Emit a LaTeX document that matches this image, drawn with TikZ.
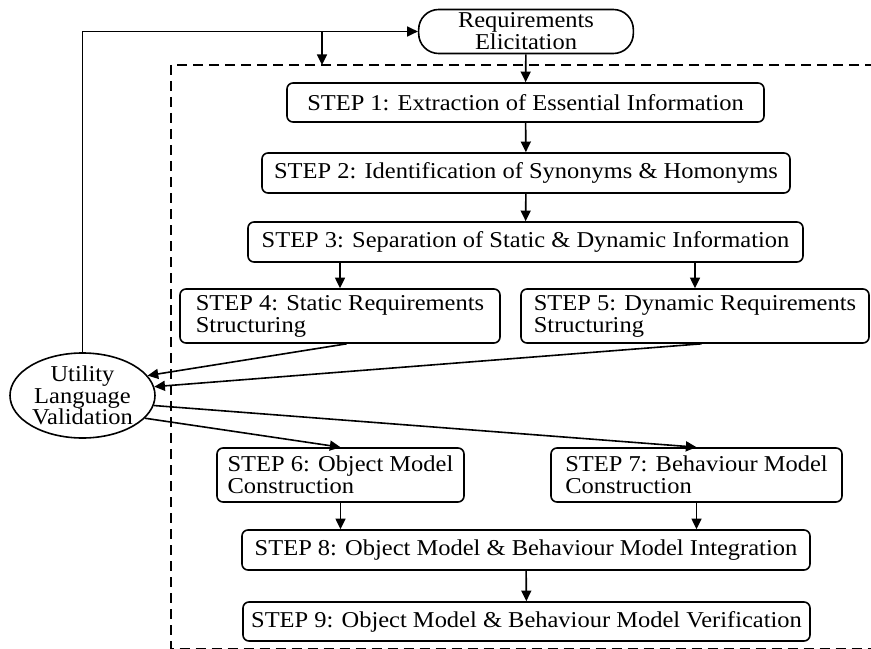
\documentclass[tikz,border=0pt]{standalone}
\usepackage{fontspec}
\setmainfont{Liberation Serif}[FakeStretch=1.08]
\usetikzlibrary{arrows.meta,shapes.geometric}

\begin{document}
\begin{tikzpicture}[x=0.75pt,y=-0.75pt,
box/.style={draw,rounded corners=4.5pt,line width=1.2pt,align=left,inner sep=0pt,font=\fontsize{17}{16.5}\selectfont},
arr/.style={-{Triangle[length=8pt,width=7.5pt]},line width=1.2pt}]
\useasboundingbox (0,0) rectangle (871,649);
% dashed frame around the steps
\draw[line width=1.2pt,dash pattern=on 7.5pt off 4.5pt] (875,65) -- (171,65) -- (171,648.5) -- (875,648.5);
\node[box,rounded corners=15pt,align=center,minimum width=161pt,minimum height=33pt] (req) at (526,31.5) {Requirements\\Elicitation};
\node[box,minimum width=357.75pt,minimum height=29.25pt] (s1) at (525.5,102.5) {STEP 1: Extraction of Essential Information};
\node[box,minimum width=396pt,minimum height=30pt] (s2) at (526,173) {STEP 2: Identification of Synonyms \& Homonyms};
\node[box,minimum width=416.25pt,minimum height=30pt] (s3) at (525.5,242) {STEP 3: Separation of Static \& Dynamic Information};
\node[box,minimum width=240pt,minimum height=40.5pt] (s4) at (340,316) {STEP 4: Static Requirements\\Structuring};
\node[box,minimum width=261pt,minimum height=40.5pt] (s5) at (695,316) {STEP 5: Dynamic Requirements\\Structuring};
\node[draw,ellipse,line width=1.2pt,align=center,inner sep=0pt,minimum width=108.75pt,minimum height=63.75pt,font=\fontsize{17}{16}\selectfont] (util) at (82.5,395.5) {Utility\\Language\\Validation};
\node[box,minimum width=185.25pt,minimum height=40.5pt] (s6) at (340.5,475) {STEP 6: Object Model\\Construction};
\node[box,minimum width=218.25pt,minimum height=40.5pt] (s7) at (696.5,475) {STEP 7: Behaviour Model\\Construction};
\node[box,minimum width=426pt,minimum height=30pt] (s8) at (526,550) {STEP 8: Object Model \& Behaviour Model Integration};
\node[box,minimum width=425.25pt,minimum height=29.25pt] (s9) at (526.5,621.5) {STEP 9: Object Model \& Behaviour Model Verification};
\coordinate (jn) at (322,31.5);
\coordinate (jt) at (322,65);
% feedback loop
\draw[arr] (util.north) |- (req.west);
\draw[arr] (jn) -- (jt);
\draw[arr] (req) -- (s1);
\draw[arr] (s1) -- (s2);
\draw[arr] (s2) -- (s3);
\draw[arr] (s3.south -| s4.north) -- (s4.north);
\draw[arr] (s3.south -| s5.north) -- (s5.north);
\draw[arr] ([xshift=5pt]s4.south) -- (util.17);
\draw[arr] ([xshift=5pt]s5.south) -- (util.7);
\draw[arr] (util.-20) -- (s6.north);
\draw[arr] (util.-8) -- (s7.north);
\draw[arr] (s6.south) -- (s6.south |- s8.north);
\draw[arr] (s7.south) -- (s7.south |- s8.north);
\draw[arr] (s8) -- (s9);
\end{tikzpicture}
\end{document}
